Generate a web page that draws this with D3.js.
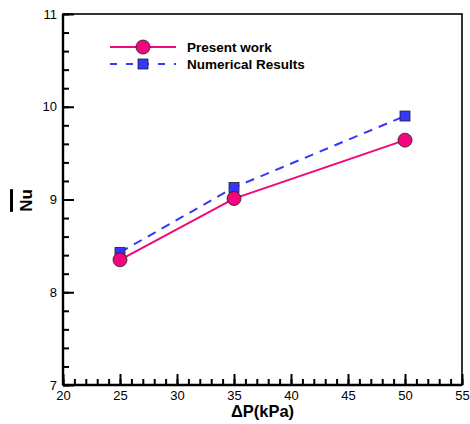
<!DOCTYPE html>
<html>
<head>
<meta charset="utf-8">
<script src="https://cdn.jsdelivr.net/npm/d3@7"></script>
<style>
  html, body { margin: 0; padding: 0; background: #fff; }
  svg { display: block; font-family: Arial, "Liberation Sans", sans-serif; }
</style>
</head>
<body>
<svg id="chart" width="470" height="424"></svg>
<script>
// Pressure drop (kPa) and average Nusselt number
const pressure = [25, 35, 50];
const presentWork = [8.35, 9.01, 9.64];
const numericalResults = [8.43, 9.13, 9.90];
const xTicks = [20, 25, 30, 35, 40, 45, 50, 55];
const yTicks = [7, 8, 9, 10, 11];
const seriesNames = ["Present work", "Numerical Results"];

const pink = "#f2057e";
const blue = "#3636ff";

const svg = d3.select("#chart");
const m = { left: 63, right: 462, top: 14, bottom: 385 };

const x = d3.scaleLinear().domain([20, 55]).range([m.left, m.right]);
const y = d3.scaleLinear().domain([7, 11]).range([m.bottom, m.top]);

// frame
svg.append("rect")
  .attr("x", m.left).attr("y", m.top)
  .attr("width", m.right - m.left).attr("height", m.bottom - m.top)
  .attr("fill", "none").attr("stroke", "#000").attr("stroke-width", 1.6);

// minor ticks (inward, unlabeled)
const xMinor = d3.range(20, 55.01, 1);
const yMinor = d3.range(0, 21).map(i => 7 + i * 0.2);

svg.append("g").attr("class", "minor")
  .attr("transform", `translate(0,${m.bottom})`)
  .call(d3.axisBottom(x).tickValues(xMinor).tickSize(-6).tickFormat(""));
svg.append("g").attr("class", "minor")
  .attr("transform", `translate(${m.left},0)`)
  .call(d3.axisLeft(y).tickValues(yMinor).tickSize(-6).tickFormat(""));

// major ticks with labels
const xAxis = svg.append("g").attr("class", "major")
  .attr("transform", `translate(0,${m.bottom})`)
  .call(d3.axisBottom(x).tickValues(xTicks).tickSize(-11).tickPadding(5).tickFormat(d3.format("d")));
const yAxis = svg.append("g").attr("class", "major")
  .attr("transform", `translate(${m.left},0)`)
  .call(d3.axisLeft(y).tickValues(yTicks).tickSize(-11).tickPadding(6).tickFormat(d3.format("d")));

svg.selectAll(".minor .domain, .major .domain").remove();
svg.selectAll(".minor .tick line, .major .tick line")
  .style("stroke", "#000").style("stroke-width", "2px");
svg.selectAll(".major text").attr("font-size", 13).attr("font-family", "Arial, 'Liberation Sans', sans-serif").attr("fill", "#000");
xAxis.selectAll("text").attr("y", 6);

// heavier left and bottom spines
svg.append("line").attr("x1", m.left).attr("x2", m.left).attr("y1", m.top).attr("y2", m.bottom)
  .attr("stroke", "#000").attr("stroke-width", 2.4);
svg.append("line").attr("x1", m.left).attr("x2", m.right).attr("y1", m.bottom).attr("y2", m.bottom)
  .attr("stroke", "#000").attr("stroke-width", 2.4);

// axis titles
svg.append("text").attr("x", (m.left + m.right) / 2).attr("y", 417)
  .attr("text-anchor", "middle").attr("font-size", 16.5).attr("font-weight", "bold")
  .text("\u0394P(kPa)");
const nu = svg.append("text")
  .attr("transform", `translate(32,${y(9) + 1}) rotate(-90)`)
  .attr("text-anchor", "middle").attr("font-size", 17).attr("font-weight", "bold")
  .text("Nu");
// overbar for the averaged Nusselt number
const nb = nu.node().getBBox();
svg.append("line")
  .attr("x1", 11.5).attr("x2", 11.5)
  .attr("y1", y(9) + 1 - nb.width / 2).attr("y2", y(9) + 1 + nb.width / 2)
  .attr("stroke", "#000").attr("stroke-width", 3);

// series lines
const line = (vals) => d3.line().x((d, i) => x(pressure[i])).y(d => y(d))(vals);
svg.append("path").attr("d", line(numericalResults))
  .attr("fill", "none").attr("stroke", blue).attr("stroke-width", 2)
  .attr("stroke-dasharray", "9,7");
svg.append("path").attr("d", line(presentWork))
  .attr("fill", "none").attr("stroke", pink).attr("stroke-width", 2);

// markers
svg.append("g").selectAll("rect").data(numericalResults).join("rect")
  .attr("x", (d, i) => x(pressure[i]) - 5).attr("y", d => y(d) - 5)
  .attr("width", 10).attr("height", 10)
  .attr("fill", blue).attr("stroke", "#222").attr("stroke-width", 0.8);
svg.append("g").selectAll("circle").data(presentWork).join("circle")
  .attr("cx", (d, i) => x(pressure[i])).attr("cy", d => y(d)).attr("r", 7)
  .attr("fill", pink).attr("stroke", "#222").attr("stroke-width", 0.8);

// legend
const lg = svg.append("g");
lg.append("line").attr("x1", 110).attr("x2", 176).attr("y1", 47).attr("y2", 47)
  .attr("stroke", pink).attr("stroke-width", 2);
lg.append("circle").attr("cx", 143).attr("cy", 47).attr("r", 7)
  .attr("fill", pink).attr("stroke", "#222").attr("stroke-width", 0.8);
lg.append("line").attr("x1", 110).attr("x2", 176).attr("y1", 64).attr("y2", 64)
  .attr("stroke", blue).attr("stroke-width", 2).attr("stroke-dasharray", "7,9");
lg.append("rect").attr("x", 138).attr("y", 59).attr("width", 10).attr("height", 10)
  .attr("fill", blue).attr("stroke", "#222").attr("stroke-width", 0.8);
lg.selectAll("text").data(seriesNames).join("text")
  .attr("x", 187).attr("y", (d, i) => 52 + i * 17)
  .attr("font-size", 13.5).attr("font-weight", "bold").text(d => d);
</script>
</body>
</html>
